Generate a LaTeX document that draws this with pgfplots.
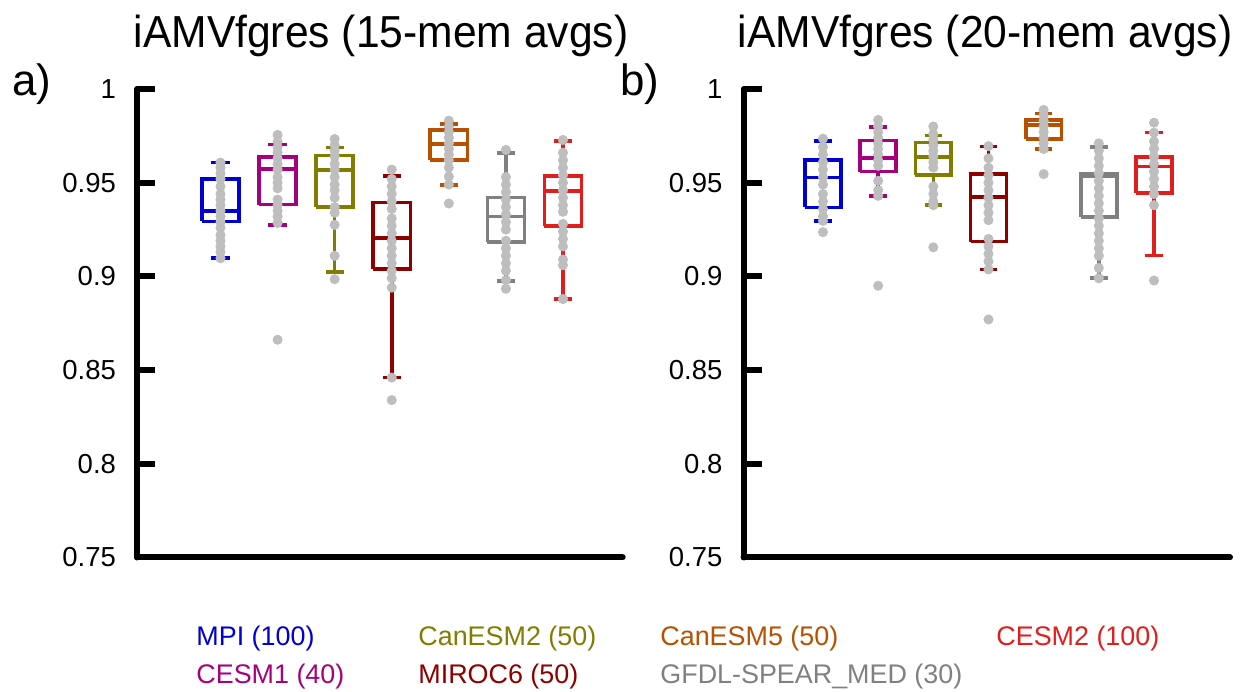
\documentclass[border=0pt]{standalone}
\usepackage{fontspec}
\setmainfont{Liberation Sans}
\newfontfamily\titlefont[FakeStretch=0.95]{Liberation Sans}
\usepackage{pgfplots}
\pgfplotsset{compat=1.18}

\definecolor{cMPI}{RGB}{0,0,210}
\definecolor{cCESMone}{RGB}{165,0,125}
\definecolor{cCanTwo}{RGB}{130,125,0}
\definecolor{cMIROC}{RGB}{140,0,0}
\definecolor{cCanFive}{RGB}{185,80,0}
\definecolor{cGFDL}{RGB}{128,128,128}
\definecolor{cCESMtwo}{RGB}{225,30,30}
\definecolor{dotgray}{RGB}{190,190,190}

\pgfplotsset{
  panel/.style={
    scale only axis,
    anchor=south west,
    height=234.25bp,
    ymin=0.75, ymax=1,
    ytick={0.75,0.8,0.85,0.9,0.95,1},
    xtick=\empty,
    axis x line*=bottom,
    axis y line*=left,
    axis line style={line width=3bp, line cap=round, -},
    tick align=inside,
    major tick length=9bp,
    ytick style={line width=3bp, black},
    yticklabel style={font=\fontsize{13.8}{16}\selectfont, xshift=-7bp},
    /pgf/number format/assume math mode=true,
    clip=false,
  },
  bx/.style={line width=1.8bp, solid, mark=none, unbounded coords=jump, line join=miter},
  dots/.style={only marks, mark=*, mark size=2.3bp, color=dotgray},
}
% box: position, lower whisker, lower quartile, median, upper quartile, upper whisker, colour
\newcommand{\mybox}[7]{%
  \pgfmathsetmacro\bxl{#1-0.325}\pgfmathsetmacro\bxr{#1+0.325}%
  \pgfmathsetmacro\cpl{#1-0.16}\pgfmathsetmacro\cpr{#1+0.16}%
  \edef\doplot{\noexpand\addplot[bx, draw=#7] coordinates {
    (\bxl,#3) (\bxr,#3) (\bxr,#5) (\bxl,#5) (\bxl,#3) (nan,nan)
    (\bxl,#4) (\bxr,#4) (nan,nan)
    (#1,#3) (#1,#2) (nan,nan) (\cpl,#2) (\cpr,#2) (nan,nan)
    (#1,#5) (#1,#6) (nan,nan) (\cpl,#6) (\cpr,#6)};}%
  \doplot}

\begin{document}
\begin{tikzpicture}
\path[use as bounding box] (0bp,0bp) rectangle (620.5bp,346bp);

% ---------- panel a ----------
\begin{axis}[panel, at={(68.5bp,67.25bp)}, width=242.85bp, xmin=-0.463, xmax=8.046]
\mybox{1}{0.9097}{0.9293}{0.935}{0.952}{0.9607}{cMPI}
\mybox{2}{0.9275}{0.9383}{0.9573}{0.9636}{0.9703}{cCESMone}
\mybox{3}{0.9023}{0.9369}{0.9568}{0.9645}{0.9687}{cCanTwo}
\mybox{4}{0.846}{0.9039}{0.9204}{0.9394}{0.9536}{cMIROC}
\mybox{5}{0.9488}{0.9622}{0.9707}{0.9781}{0.9812}{cCanFive}
\mybox{6}{0.8977}{0.9185}{0.932}{0.9421}{0.9657}{cGFDL}
\mybox{7}{0.8879}{0.927}{0.9455}{0.9536}{0.9721}{cCESMtwo}
\addplot[dots] coordinates {
 (1,0.9607) (1,0.958) (1,0.955) (1,0.952) (1,0.948) (1,0.944) (1,0.941) (1,0.938)
 (1,0.935) (1,0.932) (1,0.929) (1,0.926) (1,0.922) (1,0.919) (1,0.916) (1,0.913) (1,0.9097)};
\addplot[dots] coordinates {
 (2,0.9755) (2,0.972) (2,0.969) (2,0.966) (2,0.963) (2,0.960) (2,0.957) (2,0.953)
 (2,0.950) (2,0.947) (2,0.941) (2,0.938) (2,0.935) (2,0.932) (2,0.9285) (2,0.8662)};
\addplot[dots] coordinates {
 (3,0.9733) (3,0.970) (3,0.967) (3,0.964) (3,0.960) (3,0.957) (3,0.953) (3,0.949)
 (3,0.946) (3,0.942) (3,0.937) (3,0.934) (3,0.9275) (3,0.911) (3,0.8985)};
\addplot[dots] coordinates {
 (4,0.957) (4,0.952) (4,0.948) (4,0.944) (4,0.940) (4,0.936) (4,0.931) (4,0.927)
 (4,0.923) (4,0.919) (4,0.915) (4,0.911) (4,0.907) (4,0.903) (4,0.899) (4,0.894)
 (4,0.846) (4,0.834)};
\addplot[dots] coordinates {
 (5,0.9831) (5,0.980) (5,0.977) (5,0.974) (5,0.971) (5,0.968) (5,0.965) (5,0.962)
 (5,0.958) (5,0.9533) (5,0.949) (5,0.9389)};
\addplot[dots] coordinates {
 (6,0.9675) (6,0.953) (6,0.949) (6,0.945) (6,0.941) (6,0.937) (6,0.933) (6,0.929)
 (6,0.925) (6,0.919) (6,0.915) (6,0.911) (6,0.907) (6,0.903) (6,0.898) (6,0.8934)};
\addplot[dots] coordinates {
 (7,0.9728) (7,0.966) (7,0.962) (7,0.958) (7,0.954) (7,0.950) (7,0.946) (7,0.942)
 (7,0.938) (7,0.9345) (7,0.928) (7,0.924) (7,0.920) (7,0.916) (7,0.909) (7,0.906) (7,0.8879)};
\end{axis}

% ---------- panel b ----------
\begin{axis}[panel, at={(371.75bp,67.25bp)}, width=243.25bp, xmin=-0.441, xmax=8.378]
\mybox{1}{0.9296}{0.9368}{0.9527}{0.9622}{0.9721}{cMPI}
\mybox{2}{0.943}{0.9559}{0.9631}{0.9725}{0.9797}{cCESMone}
\mybox{3}{0.938}{0.954}{0.9636}{0.9714}{0.9751}{cCanTwo}
\mybox{4}{0.9037}{0.9186}{0.9424}{0.9546}{0.9693}{cMIROC}
\mybox{5}{0.9679}{0.9734}{0.9808}{0.9835}{0.987}{cCanFive}
\mybox{6}{0.899}{0.9316}{0.9533}{0.9546}{0.969}{cGFDL}
\mybox{7}{0.9111}{0.9444}{0.9586}{0.9636}{0.9767}{cCESMtwo}
\addplot[dots] coordinates {
 (1,0.9735) (1,0.969) (1,0.965) (1,0.961) (1,0.957) (1,0.953) (1,0.949) (1,0.944)
 (1,0.940) (1,0.936) (1,0.932) (1,0.9296) (1,0.9236)};
\addplot[dots] coordinates {
 (2,0.9835) (2,0.980) (2,0.977) (2,0.974) (2,0.971) (2,0.968) (2,0.965) (2,0.962)
 (2,0.959) (2,0.951) (2,0.946) (2,0.943) (2,0.895)};
\addplot[dots] coordinates {
 (3,0.980) (3,0.976) (3,0.973) (3,0.970) (3,0.967) (3,0.964) (3,0.961) (3,0.958)
 (3,0.948) (3,0.944) (3,0.940) (3,0.938) (3,0.9155)};
\addplot[dots] coordinates {
 (4,0.9695) (4,0.963) (4,0.958) (4,0.954) (4,0.950) (4,0.946) (4,0.942) (4,0.938)
 (4,0.934) (4,0.930) (4,0.920) (4,0.916) (4,0.912) (4,0.908) (4,0.9037) (4,0.877)};
\addplot[dots] coordinates {
 (5,0.9888) (5,0.986) (5,0.983) (5,0.980) (5,0.977) (5,0.974) (5,0.971) (5,0.968) (5,0.9546)};
\addplot[dots] coordinates {
 (6,0.971) (6,0.967) (6,0.963) (6,0.959) (6,0.955) (6,0.951) (6,0.947) (6,0.943)
 (6,0.939) (6,0.935) (6,0.931) (6,0.927) (6,0.923) (6,0.919) (6,0.915) (6,0.911)
 (6,0.9045) (6,0.899)};
\addplot[dots] coordinates {
 (7,0.982) (7,0.9767) (7,0.972) (7,0.968) (7,0.964) (7,0.960) (7,0.956) (7,0.952)
 (7,0.948) (7,0.944) (7,0.938) (7,0.8978)};
\end{axis}

% titles and panel letters
\node[anchor=base, font=\titlefont\fontsize{22.5}{26}\selectfont] at (190.5bp,322bp) {iAMVfgres (15-mem avgs)};
\node[anchor=base, font=\titlefont\fontsize{22.5}{26}\selectfont] at (492.5bp,322bp) {iAMVfgres (20-mem avgs)};
\node[anchor=base west, inner sep=0pt, font=\fontsize{22}{26}\selectfont] at (6bp,298bp) {a)};
\node[anchor=base west, inner sep=0pt, font=\fontsize{22}{26}\selectfont] at (310bp,298bp) {b)};

% legend text
\begin{scope}[every node/.style={anchor=base west, inner sep=0pt, font=\fontsize{13.5}{16}\selectfont}]
\node[text=cMPI] at (98bp,23.5bp) {MPI (100)};
\node[text=cCanTwo] at (209bp,23.5bp) {CanESM2 (50)};
\node[text=cCanFive] at (330bp,23.5bp) {CanESM5 (50)};
\node[text=cCESMtwo] at (498bp,23.5bp) {CESM2 (100)};
\node[text=cCESMone] at (98bp,4.35bp) {CESM1 (40)};
\node[text=cMIROC] at (209bp,4.35bp) {MIROC6 (50)};
\node[text=cGFDL] at (330bp,4.35bp) {GFDL-SPEAR\_MED (30)};
\end{scope}
\end{tikzpicture}
\end{document}
